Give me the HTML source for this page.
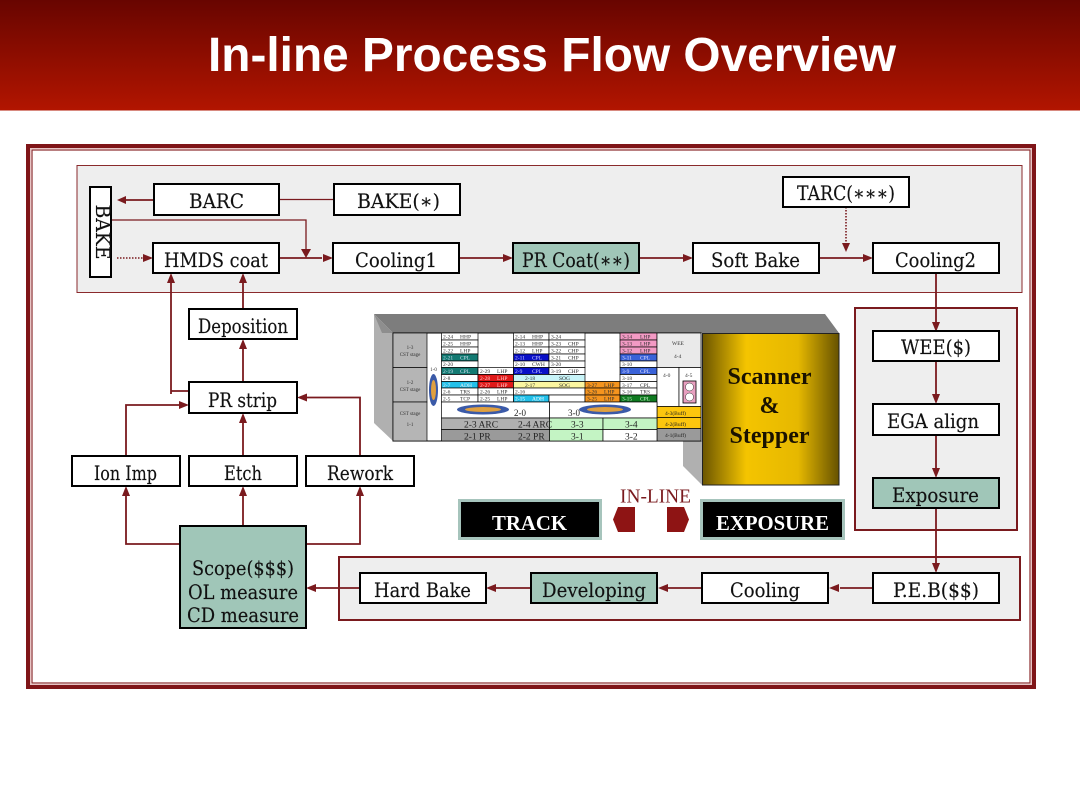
<!DOCTYPE html>
<html><head><meta charset="utf-8"><style>
html,body{margin:0;padding:0;background:#fff}
svg{display:block}
.n{font-family:"DejaVu Serif","Liberation Serif",serif;font-size:19.5px;fill:#111;stroke:#111;stroke-width:.15;text-anchor:middle}
.t{font-family:"Liberation Serif",serif;font-size:5.5px;fill:#333}
.b{fill:#fff;stroke:#000;stroke-width:2}
.g{fill:#a0c6b8;stroke:#000;stroke-width:2}
.c{fill:#fff;stroke:#000;stroke-width:.7}
.l{stroke:#7a1a1e;stroke-width:1.8;fill:none}
.a{fill:#7a1a1e}
</style></head><body>
<svg width="1080" height="810" viewBox="0 0 1080 810" xmlns="http://www.w3.org/2000/svg">
<defs>
<linearGradient id="h" x1="0" y1="0" x2="0" y2="1"><stop offset="0" stop-color="#680500"/><stop offset="1" stop-color="#b21500"/></linearGradient>
<linearGradient id="au" x1="0" y1="0" x2="1" y2="0"><stop offset="0" stop-color="#6b5500"/><stop offset=".32" stop-color="#f4c400"/><stop offset=".7" stop-color="#e6b800"/><stop offset="1" stop-color="#665200"/></linearGradient>
</defs>
<rect width="1080" height="810" fill="#fff"/>
<rect width="1080" height="110.500" fill="url(#h)"/>
<text x="208" y="71" font-family="Liberation Sans,sans-serif" font-weight="bold" font-size="48" fill="#fff" textLength="688" lengthAdjust="spacingAndGlyphs">In-line Process Flow Overview</text>

<rect x="28" y="146" width="1006" height="541" fill="none" stroke="#7f1518" stroke-width="4"/>
<rect x="30.500" y="148.500" width="1001" height="536" fill="none" stroke="#e8c4c4" stroke-width="1"/>
<rect x="32" y="150" width="998" height="533" fill="#fff" stroke="#8a2a2c" stroke-width="1.200"/>

<rect x="77" y="165.500" width="945" height="127" fill="#eee" stroke="#8a2a2c" stroke-width="1"/>
<rect x="855" y="308" width="162" height="222" fill="#eee" stroke="#7a1a1e" stroke-width="2"/>
<rect x="339" y="557" width="681" height="63" fill="#eee" stroke="#7a1a1e" stroke-width="2"/>

<!-- 3D equipment -->
<polygon points="374,314 825,314 839,333 393,333" fill="#7d7d7d"/>
<polygon points="374,314 393,333 393,441 374,423" fill="#b0b0b0"/>
<polygon points="374,314 393,333 382,333" fill="#8e8e8e"/>
<polygon points="683,441 702,441 702,485 683,466" fill="#b0b0b0"/>
<rect x="702.500" y="333.500" width="136.500" height="151.500" fill="url(#au)" stroke="#222" stroke-width="1"/>
<g font-family="Liberation Serif,serif" font-weight="bold" font-size="24" fill="#1a1200" text-anchor="middle">
<text x="769.500" y="384">Scanner</text><text x="769.500" y="413">&amp;</text><text x="769.500" y="443">Stepper</text></g>

<!-- table -->
<rect x="393" y="333" width="308" height="108" fill="#fff" stroke="#000" stroke-width="1"/>
<g fill="#b5b5b5" stroke="#000" stroke-width=".7">
<rect x="393" y="333" width="34" height="34.500"/><rect x="393" y="367.500" width="34" height="34.500"/><rect x="393" y="402" width="34" height="39"/>
</g>
<g style="font-family:'Liberation Serif',serif;font-size:5px;fill:#333" text-anchor="middle">
<text x="410" y="349">1-3</text><text x="410" y="356">CST stage</text>
<text x="410" y="384">1-2</text><text x="410" y="391">CST stage</text>
<text x="410" y="415">CST stage</text><text x="410" y="426">1-1</text>
<text x="433.500" y="371">1-0</text>
</g>
<ellipse cx="433.500" cy="390" rx="4.500" ry="16" fill="#3b5aa8"/><ellipse cx="433.500" cy="390" rx="2.500" ry="10" fill="#e0a040"/>

<g>
<rect class="c" x="441.500" y="333" width="36.500" height="7"/><rect class="c" x="441.500" y="340" width="36.500" height="7"/><rect class="c" x="441.500" y="347" width="36.500" height="7"/>
<rect x="441.500" y="354" width="36.500" height="7" fill="#137a72" stroke="#000" stroke-width=".7"/><rect class="c" x="441.500" y="361" width="36.500" height="6.500"/>
<rect x="441.500" y="367.500" width="36.500" height="7" fill="#137a72" stroke="#000" stroke-width=".7"/><rect class="c" x="441.500" y="374.500" width="36.500" height="7"/>
<rect x="441.500" y="381.500" width="36.500" height="6.500" fill="#22c0ea" stroke="#000" stroke-width=".7"/><rect class="c" x="441.500" y="388" width="36.500" height="7"/><rect class="c" x="441.500" y="395" width="36.500" height="7"/>
<rect class="c" x="478" y="367.500" width="35.500" height="7"/>
<rect x="478" y="374.500" width="35.500" height="7" fill="#e01818" stroke="#000" stroke-width=".7"/><rect x="478" y="381.500" width="35.500" height="6.500" fill="#e01818" stroke="#000" stroke-width=".7"/>
<rect class="c" x="478" y="388" width="35.500" height="7"/><rect class="c" x="478" y="395" width="35.500" height="7"/>
<rect class="c" x="513.500" y="333" width="35.500" height="7"/><rect class="c" x="513.500" y="340" width="35.500" height="7"/><rect class="c" x="513.500" y="347" width="35.500" height="7"/>
<rect x="513.500" y="354" width="35.500" height="7" fill="#0a10c8" stroke="#000" stroke-width=".7"/><rect class="c" x="513.500" y="361" width="35.500" height="6.500"/>
<rect x="513.500" y="367.500" width="35.500" height="7" fill="#0a10c8" stroke="#000" stroke-width=".7"/>
<rect x="513.500" y="374.500" width="71.500" height="7" fill="#c8f4f8" stroke="#000" stroke-width=".7"/>
<rect x="513.500" y="381.500" width="106.500" height="6.500" fill="#fbf6a0" stroke="#000" stroke-width=".7"/>
<rect class="c" x="513.500" y="388" width="71.500" height="7"/>
<rect x="513.500" y="395" width="35.500" height="7" fill="#22c0ea" stroke="#000" stroke-width=".7"/>
<rect class="c" x="549" y="395" width="36" height="7"/>
<rect class="c" x="549" y="333" width="36" height="7"/><rect class="c" x="549" y="340" width="36" height="7"/><rect class="c" x="549" y="347" width="36" height="7"/><rect class="c" x="549" y="354" width="36" height="7"/><rect class="c" x="549" y="361" width="36" height="6.500"/><rect class="c" x="549" y="367.500" width="36" height="7"/>
<rect x="585" y="381.500" width="35" height="6.500" fill="#f5941e" stroke="#000" stroke-width=".7"/><rect x="585" y="388" width="35" height="7" fill="#f5941e" stroke="#000" stroke-width=".7"/><rect x="585" y="395" width="35" height="7" fill="#f5941e" stroke="#000" stroke-width=".7"/>
<g fill="#f39ac4" stroke="#000" stroke-width=".7"><rect x="620" y="333" width="37" height="7"/><rect x="620" y="340" width="37" height="7"/><rect x="620" y="347" width="37" height="7"/></g>
<rect x="620" y="354" width="37" height="7" fill="#3a62d8" stroke="#000" stroke-width=".7"/><rect class="c" x="620" y="361" width="37" height="6.500"/>
<rect x="620" y="367.500" width="37" height="7" fill="#3a62d8" stroke="#000" stroke-width=".7"/>
<rect class="c" x="620" y="374.500" width="37" height="7"/><rect class="c" x="620" y="381.500" width="37" height="6.500"/><rect class="c" x="620" y="388" width="37" height="7"/>
<rect x="620" y="395" width="37" height="7" fill="#0f7a20" stroke="#000" stroke-width=".7"/>
<rect x="657" y="333" width="44" height="34.500" fill="#eaeaea" stroke="#000" stroke-width=".7"/>
<rect class="c" x="657" y="367.500" width="22" height="39"/><rect class="c" x="679" y="367.500" width="22" height="39"/>
<rect x="683" y="381" width="13" height="22" fill="#e8a0c0" stroke="#000" stroke-width=".8"/>
<circle cx="689.500" cy="387" r="4" fill="#fff" stroke="#333" stroke-width=".5"/><circle cx="689.500" cy="397" r="4" fill="#fff" stroke="#333" stroke-width=".5"/>
<rect x="657" y="406.500" width="44" height="11" fill="#fcc60e" stroke="#000" stroke-width=".7"/>
<rect x="657" y="417.500" width="44" height="11" fill="#fcc60e" stroke="#000" stroke-width=".7"/>
<rect x="657" y="428.500" width="44" height="12.500" fill="#9a9a9a" stroke="#000" stroke-width=".7"/>
<rect class="c" x="441.500" y="402" width="108" height="16"/><rect class="c" x="549.500" y="402" width="107.500" height="16"/>
<rect x="441.500" y="418" width="108" height="11.500" fill="#b0b0b0" stroke="#000" stroke-width=".7"/>
<rect x="441.500" y="429.500" width="108" height="11.500" fill="#9a9a9a" stroke="#000" stroke-width=".7"/>
<rect x="549.500" y="418" width="53.500" height="11.500" fill="#c4f4c4" stroke="#000" stroke-width=".7"/><rect x="603" y="418" width="54" height="11.500" fill="#c4f4c4" stroke="#000" stroke-width=".7"/>
<rect x="549.500" y="429.500" width="53.500" height="11.500" fill="#c4f4c4" stroke="#000" stroke-width=".7"/><rect class="c" x="603" y="429.500" width="54" height="11.500"/>
<ellipse cx="483" cy="409.500" rx="26" ry="5" fill="#3b5aa8"/><ellipse cx="483" cy="409.500" rx="18" ry="2.500" fill="#e0a040"/>
<ellipse cx="605" cy="409.500" rx="26" ry="5" fill="#3b5aa8"/><ellipse cx="605" cy="409.500" rx="18" ry="2.500" fill="#e0a040"/>
</g>
<g class="t">
<text x="443" y="338.500">2-24</text><text x="460" y="338.500">HHP</text><text x="443" y="345.500">2-25</text><text x="460" y="345.500">HHP</text><text x="443" y="352.500">2-22</text><text x="460" y="352.500">LHP</text>
<text x="443" y="359.500" style="fill:#cde">2-21</text><text x="460" y="359.500" style="fill:#cde">CPL</text><text x="443" y="366">2-20</text><text x="443" y="373" style="fill:#cde">2-19</text><text x="460" y="373" style="fill:#cde">CPL</text>
<text x="443" y="380">2-8</text><text x="443" y="387" style="fill:#eee">2-7</text><text x="460" y="387" style="fill:#eee">ADH</text><text x="443" y="393.500">2-6</text><text x="460" y="393.500">TRS</text><text x="443" y="400.500">2-5</text><text x="460" y="400.500">TCP</text>
<text x="480" y="373">2-29</text><text x="497" y="373">LHP</text><text x="480" y="380" style="fill:#fcc">2-28</text><text x="497" y="380" style="fill:#fcc">LHP</text><text x="480" y="387" style="fill:#fcc">2-27</text><text x="497" y="387" style="fill:#fcc">LHP</text><text x="480" y="393.500">2-26</text><text x="497" y="393.500">LHP</text><text x="480" y="400.500">2-25</text><text x="497" y="400.500">LHP</text>
<text x="515" y="338.500">2-14</text><text x="532" y="338.500">HHP</text><text x="515" y="345.500">2-13</text><text x="532" y="345.500">HHP</text><text x="515" y="352.500">2-12</text><text x="532" y="352.500">LHP</text><text x="515" y="359.500" style="fill:#ccf">2-11</text><text x="532" y="359.500" style="fill:#ccf">CPL</text><text x="515" y="366">2-10</text><text x="532" y="366">CWH</text><text x="515" y="373" style="fill:#ccf">2-9</text><text x="532" y="373" style="fill:#ccf">CPL</text>
<text x="525" y="380">2-18</text><text x="559" y="380">SOG</text><text x="525" y="387">2-17</text><text x="559" y="387">SOG</text><text x="515" y="393.500">2-16</text><text x="515" y="400.500" style="fill:#fff">2-15</text><text x="532" y="400.500" style="fill:#fff">ADH</text>
<text x="551" y="338.500">3-24</text><text x="551" y="345.500">3-23</text><text x="568" y="345.500">CHP</text><text x="551" y="352.500">3-22</text><text x="568" y="352.500">CHP</text><text x="551" y="359.500">3-21</text><text x="568" y="359.500">CHP</text><text x="551" y="366">3-20</text><text x="551" y="373">3-19</text><text x="568" y="373">CHP</text>
<text x="587" y="387">3-27</text><text x="604" y="387">LHP</text><text x="587" y="393.500">3-26</text><text x="604" y="393.500">LHP</text><text x="587" y="400.500">3-25</text><text x="604" y="400.500">LHP</text>
<text x="622" y="338.500">3-14</text><text x="640" y="338.500">LHP</text><text x="622" y="345.500">3-13</text><text x="640" y="345.500">LHP</text><text x="622" y="352.500">3-12</text><text x="640" y="352.500">LHP</text><text x="622" y="359.500" style="fill:#ddf">3-11</text><text x="640" y="359.500" style="fill:#ddf">CPL</text><text x="622" y="366">3-10</text><text x="622" y="373" style="fill:#ddf">3-9</text><text x="640" y="373" style="fill:#ddf">CPL</text>
<text x="622" y="380">3-18</text><text x="622" y="387">3-17</text><text x="640" y="387">CPL</text><text x="622" y="393.500">3-16</text><text x="640" y="393.500">TRS</text><text x="622" y="400.500" style="fill:#cec">3-15</text><text x="640" y="400.500" style="fill:#cec">CPL</text>
<text x="672" y="345">WEE</text><text x="674" y="358">4-4</text><text x="663" y="377">4-0</text><text x="685" y="377">4-5</text>
</g>
<g font-family="Liberation Serif,serif" fill="#222">
<text x="514" y="416" font-size="9">2-0</text><text x="568" y="416" font-size="9">3-0</text>
<text x="464" y="427.500" font-size="9.500">2-3  ARC</text><text x="518" y="427.500" font-size="9.500">2-4  ARC</text><text x="571" y="427.500" font-size="9.500">3-3</text><text x="625" y="427.500" font-size="9.500">3-4</text>
<text x="464" y="439.500" font-size="9.500">2-1  PR</text><text x="518" y="439.500" font-size="9.500">2-2  PR</text><text x="571" y="439.500" font-size="9.500">3-1</text><text x="625" y="439.500" font-size="9.500">3-2</text>
<text x="665" y="415" font-size="5.500">4-3(Buff)</text><text x="665" y="426" font-size="5.500">4-2(Buff)</text><text x="665" y="437" font-size="5.500">4-1(Buff)</text>
</g>

<!-- connectors -->
<g class="l">
<path d="M153 200H122"/><path d="M279 199.500H334" stroke-width="1.200"/><path d="M111 220H306V250" stroke-width="1.300"/>
<path d="M279 258H322"/><path d="M459 258H503"/><path d="M639 258H683"/><path d="M819 258H863"/>
<path d="M936 273V322"/><path d="M936 361V395"/><path d="M936 435V469"/><path d="M936 508V563"/>
<path d="M873 588H840"/><path d="M702 588H668"/><path d="M531 588H496"/><path d="M360 588H316"/>
<path d="M243 309V283"/><path d="M243 382V349"/><path d="M171 394V278"/><path d="M171 391H189"/>
<path d="M126 457V405H180"/><path d="M243 456V422"/><path d="M360 459V397.500H307"/>
<path d="M243 526V495"/><path d="M180 544H126V495"/><path d="M306 544H360V495"/>
</g>
<path d="M846 207V242" stroke="#7a1a1e" stroke-width="1.600" stroke-dasharray="1.500 1.500" fill="none"/>
<path d="M117 258H144" stroke="#7a1a1e" stroke-width="1.600" stroke-dasharray="1.500 1.500" fill="none"/>
<g class="a">
<polygon points="117,200 126,196 126,204"/><polygon points="306,258 301,249 311,249"/>
<polygon points="153,258 143,254 143,262"/><polygon points="333,258 323,254 323,262"/><polygon points="513,258 503,254 503,262"/><polygon points="693,258 683,254 683,262"/><polygon points="873,258 863,254 863,262"/>
<polygon points="846,252 842,243 850,243"/><polygon points="936,332 932,322 940,322"/><polygon points="936,404 932,394 940,394"/><polygon points="936,478 932,468 940,468"/><polygon points="936,573 932,563 940,563"/>
<polygon points="829,588 839,584 839,592"/><polygon points="658,588 668,584 668,592"/><polygon points="486,588 496,584 496,592"/><polygon points="306,588 316,584 316,592"/>
<polygon points="243,273 239,283 247,283"/><polygon points="243,339 239,349 247,349"/><polygon points="171,273 167,283 175,283"/>
<polygon points="189,405 179,401 179,409"/><polygon points="297,397.500 307,393.500 307,401.500"/><polygon points="243,413 239,423 247,423"/>
<polygon points="126,486 122,496 130,496"/><polygon points="243,486 239,496 247,496"/><polygon points="360,486 356,496 364,496"/>
</g>

<!-- boxes -->
<rect class="b" x="90" y="187" width="21" height="90"/>
<rect class="b" x="154" y="184" width="125" height="31"/><rect class="b" x="334" y="184" width="126" height="31"/><rect class="b" x="783" y="177" width="126" height="30"/>
<rect class="b" x="153" y="243" width="126" height="30"/><rect class="b" x="333" y="243" width="126" height="30"/><rect class="g" x="513" y="243" width="126" height="30"/><rect class="b" x="693" y="243" width="126" height="30"/><rect class="b" x="873" y="243" width="126" height="30"/>
<rect class="b" x="873" y="331" width="126" height="30"/><rect class="b" x="873" y="404" width="126" height="31"/><rect class="g" x="873" y="478" width="126" height="30"/>
<rect class="b" x="873" y="573" width="126" height="30"/><rect class="b" x="702" y="573" width="126" height="30"/><rect class="g" x="531" y="573" width="126" height="30"/><rect class="b" x="360" y="573" width="126" height="30"/>
<rect class="b" x="189" y="309" width="108" height="30"/><rect class="b" x="189" y="382" width="108" height="31"/>
<rect class="b" x="72" y="456" width="108" height="30"/><rect class="b" x="189" y="456" width="108" height="30"/><rect class="b" x="306" y="456" width="108" height="30"/>
<rect class="g" x="180" y="526" width="126" height="102"/>

<g class="n">
<text transform="translate(96,204.500) rotate(90)" x="0" y="0" style="text-anchor:start" textLength="55" lengthAdjust="spacingAndGlyphs">BAKE</text>
<text x="216.500" y="208" textLength="55" lengthAdjust="spacingAndGlyphs">BARC</text>
<text x="398.500" y="208" textLength="83" lengthAdjust="spacingAndGlyphs">BAKE(∗)</text>
<text x="846" y="200" textLength="98" lengthAdjust="spacingAndGlyphs">TARC(∗∗∗)</text>
<text x="216" y="267" textLength="104" lengthAdjust="spacingAndGlyphs">HMDS coat</text>
<text x="396" y="267" textLength="82" lengthAdjust="spacingAndGlyphs">Cooling1</text>
<text x="576" y="267" textLength="108" lengthAdjust="spacingAndGlyphs">PR Coat(∗∗)</text>
<text x="755.500" y="267" textLength="89" lengthAdjust="spacingAndGlyphs">Soft Bake</text>
<text x="935.500" y="267" textLength="81" lengthAdjust="spacingAndGlyphs">Cooling2</text>
<text x="936" y="354" textLength="70" lengthAdjust="spacingAndGlyphs">WEE($)</text>
<text x="933" y="428" textLength="92" lengthAdjust="spacingAndGlyphs">EGA align</text>
<text x="935.500" y="502" textLength="87" lengthAdjust="spacingAndGlyphs">Exposure</text>
<text x="936" y="597" textLength="86" lengthAdjust="spacingAndGlyphs">P.E.B($$)</text>
<text x="765" y="597" textLength="70" lengthAdjust="spacingAndGlyphs">Cooling</text>
<text x="594" y="597" textLength="104" lengthAdjust="spacingAndGlyphs">Developing</text>
<text x="422.500" y="597" textLength="97" lengthAdjust="spacingAndGlyphs">Hard Bake</text>
<text x="243" y="333" textLength="90" lengthAdjust="spacingAndGlyphs">Deposition</text>
<text x="242.500" y="407" textLength="69" lengthAdjust="spacingAndGlyphs">PR strip</text>
<text x="125.500" y="480" textLength="63" lengthAdjust="spacingAndGlyphs">Ion Imp</text>
<text x="243" y="480" textLength="38" lengthAdjust="spacingAndGlyphs">Etch</text>
<text x="360" y="480" textLength="66" lengthAdjust="spacingAndGlyphs">Rework</text>
<text x="243" y="575" textLength="102" lengthAdjust="spacingAndGlyphs">Scope($$$)</text>
<text x="243" y="599" textLength="110" lengthAdjust="spacingAndGlyphs">OL measure</text>
<text x="243" y="622" textLength="112" lengthAdjust="spacingAndGlyphs">CD measure</text>
</g>

<!-- track / exposure -->
<rect x="459.500" y="500.500" width="141" height="38" fill="#000" stroke="#a6c4bc" stroke-width="3"/>
<rect x="701.500" y="500.500" width="142" height="38" fill="#000" stroke="#a6c4bc" stroke-width="3"/>
<g font-family="Liberation Serif,serif" font-weight="bold" font-size="21" fill="#fff" text-anchor="middle">
<text x="529.500" y="530" textLength="75" lengthAdjust="spacingAndGlyphs">TRACK</text>
<text x="772.500" y="530" textLength="113" lengthAdjust="spacingAndGlyphs">EXPOSURE</text></g>
<text x="655.500" y="502.500" font-family="Liberation Serif,serif" font-size="20.500" fill="#7a1a1e" text-anchor="middle" textLength="71" lengthAdjust="spacingAndGlyphs">IN-LINE</text>
<polygon points="635,507 635,532 618,532 613,519.500 618,507" fill="#8e1414"/>
<polygon points="667,507 667,532 684,532 689,519.500 684,507" fill="#8e1414"/>
</svg>
</body></html>
